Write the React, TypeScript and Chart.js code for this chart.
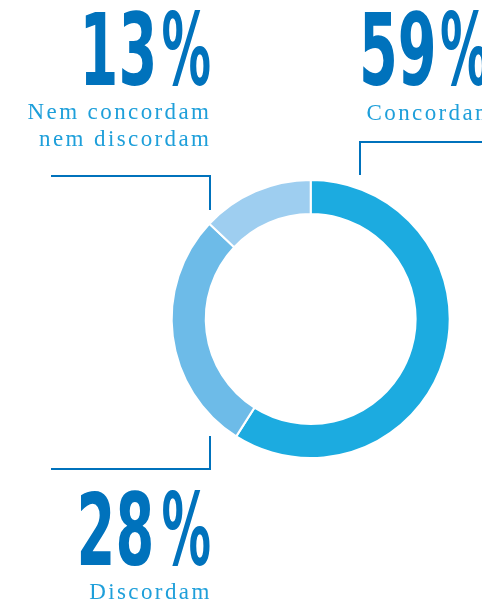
import React, { useEffect, useRef } from "react";
import { Chart, registerables } from "chart.js";

Chart.register(...registerables);

const categories = ["Concordam", "Discordam", "Nem concordam nem discordam"];
const values = [59, 28, 13];
const colors = ["#1CABE0", "#6DBBE8", "#9ECEF0"];
const percentNumbers = ["59", "28", "13"];

const DARK = "#0072BC";
const LIGHT = "#1E9FDA";

const DIGIT_SCALE = 0.62;
const PCT_SCALE = 0.55;

const bigFont: React.CSSProperties = {
  position: "absolute",
  fontFamily: "'DejaVu Sans Condensed', 'DejaVu Sans', sans-serif",
  fontWeight: 700,
  fontSize: 100,
  lineHeight: "80px",
  color: DARK,
  whiteSpace: "nowrap",
};

const labelFont: React.CSSProperties = {
  position: "absolute",
  fontFamily: "'Liberation Serif', 'Times New Roman', serif",
  fontSize: 23,
  lineHeight: "26.7px",
  letterSpacing: 2.4,
  color: LIGHT,
  whiteSpace: "nowrap",
};

const line = (x: number, y: number, w: number, h: number): React.CSSProperties => ({
  position: "absolute",
  left: x,
  top: y,
  width: w,
  height: h,
  background: DARK,
});

function BigRight({ num, right, digitsRight, top }: { num: string; right: number; digitsRight: number; top: number }) {
  return (
    <>
      <span style={{ ...bigFont, right: digitsRight, top, transform: `scaleX(${DIGIT_SCALE})`, transformOrigin: "right center" }}>
        {num}
      </span>
      <span style={{ ...bigFont, right, top, transform: `scaleX(${PCT_SCALE})`, transformOrigin: "right center" }}>%</span>
    </>
  );
}

export default function App() {
  const canvasRef = useRef<HTMLCanvasElement | null>(null);

  useEffect(() => {
    if (!canvasRef.current) return;
    const chart = new Chart(canvasRef.current, {
      type: "doughnut",
      data: {
        labels: categories,
        datasets: [
          {
            data: values,
            backgroundColor: colors,
            borderColor: "#ffffff",
            borderWidth: 2,
            hoverBorderWidth: 2,
          },
        ],
      },
      options: {
        animation: false,
        responsive: false,
        maintainAspectRatio: false,
        cutout: "75.5%",
        layout: { padding: { left: 170.7, right: 31.3, top: 179, bottom: 142 } },
        plugins: { legend: { display: false }, tooltip: { enabled: false } },
      },
    });
    return () => chart.destroy();
  }, []);

  return (
    <div style={{ position: "fixed", left: 0, top: 0, width: 482, height: 601, overflow: "hidden", background: "#fff" }}>
      <canvas ref={canvasRef} width={482} height={601} style={{ position: "absolute", left: 0, top: 0 }} />

      {/* 13% */}
      <BigRight num={percentNumbers[2]} right={271} digitsRight={325} top={10.9} />
      <div style={{ ...labelFont, right: 273 - 2.4, top: 98.9, textAlign: "right" }}>
        Nem concordam
        <br />
        nem discordam
      </div>

      {/* 59% */}
      <span style={{ ...bigFont, left: 359, top: 10.9, transform: `scaleX(${DIGIT_SCALE})`, transformOrigin: "left center" }}>
        {percentNumbers[0]}
      </span>
      <span style={{ ...bigFont, left: 440, top: 10.9, transform: `scaleX(${PCT_SCALE})`, transformOrigin: "left center" }}>%</span>
      <div style={{ ...labelFont, left: 366.5, top: 99.6 }}>Concordam</div>

      {/* 28% */}
      <BigRight num={percentNumbers[1]} right={271} digitsRight={328} top={490.9} />
      <div style={{ ...labelFont, right: 272.7 - 2.4, top: 579, textAlign: "right" }}>Discordam</div>

      {/* leader lines */}
      <div style={line(51, 175, 160, 2)} />
      <div style={line(208.5, 175, 2, 35)} />
      <div style={line(358.5, 141, 124, 2)} />
      <div style={line(358.5, 141, 2, 34)} />
      <div style={line(208.5, 436, 2, 33)} />
      <div style={line(51, 467.5, 159.5, 2)} />
    </div>
  );
}
